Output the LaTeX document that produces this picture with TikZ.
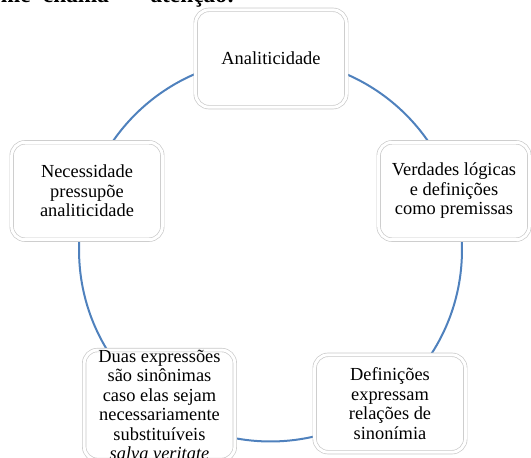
\documentclass[tikz,border=0pt]{standalone}
\usepackage{fontspec}
\setmainfont{Liberation Serif}
\definecolor{cyc}{HTML}{4F81BD}
\definecolor{boxline}{HTML}{C8C8C8}
\tikzset{
  cyclebox/.style={draw=boxline, line width=0.5pt, double=white, double distance=2.2pt,
    fill=white, rounded corners=10pt, minimum width=113pt, minimum height=73pt,
    align=center, inner sep=0pt, font=\fontsize{13.8}{14.6}\selectfont},
  ring/.style={draw=cyc, line width=1.5pt},
  headtxt/.style={font=\fontsize{17.5}{20}\selectfont\bfseries, inner sep=0pt}
}
\begin{document}
\begin{tikzpicture}[x=0.75pt,y=-0.75pt]
\useasboundingbox (0,0) rectangle (531,457);
\begin{scope}
\clip (0,0) rectangle (531,457);
% partially visible heading text
\node[headtxt, anchor=base east] (h1) at (31,2) {me};
\node[headtxt, anchor=base] (h2) at (76,2) {chama};
\node[headtxt, anchor=base east] (h3) at (235,2) {atenção:};
\end{scope}
% ring
\coordinate (c) at (270.5,250);
\draw[ring] (c) circle[radius=143.6pt];
% boxes
\node[cyclebox] (a) at (271,58.5) {Analiticidade};
\node[cyclebox] (v) at (454,191) {Verdades lógicas\\e definições\\como premissas};
\node[cyclebox] (d) at (390,403.5) {Definições\\expressam\\relações de\\sinonímia};
\node[cyclebox] (e) at (159.5,405) {Duas expressões\\são sinônimas\\caso elas sejam\\necessariamente\\substituíveis\\\textit{salva veritate}};
\node[cyclebox] (n) at (87,191) {Necessidade\\pressupõe\\analiticidade};
\end{tikzpicture}
\end{document}
